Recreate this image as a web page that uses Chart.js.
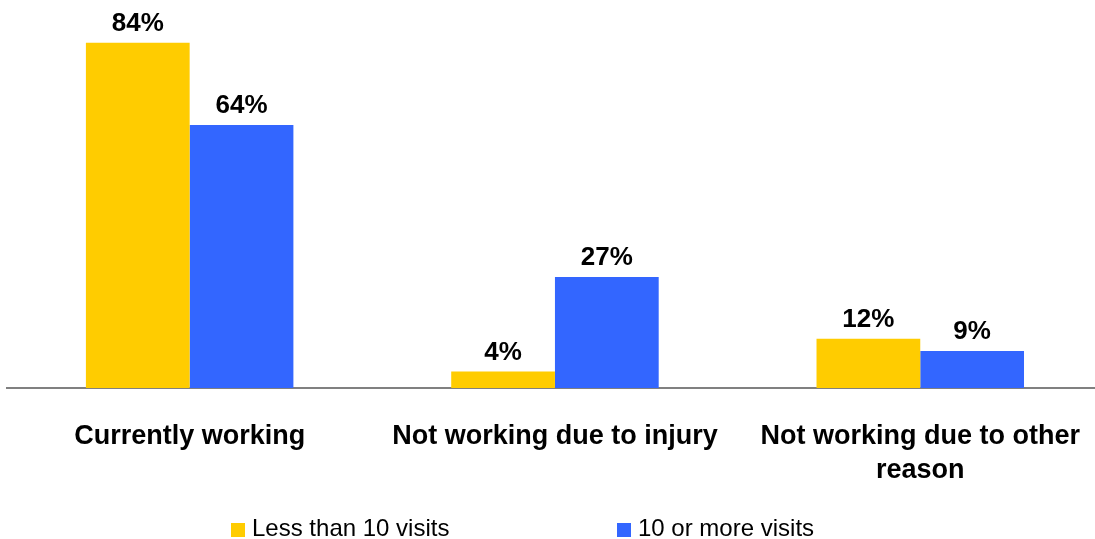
<!DOCTYPE html>
<html>
<head>
<meta charset="utf-8">
<script src="https://cdn.jsdelivr.net/npm/chart.js@4"></script>
<style>
  html, body { margin: 0; padding: 0; background: #fff; overflow: hidden; }
  #wrap { width: 1095px; height: 539px; overflow: hidden; }
  canvas { display: block; }
</style>
</head>
<body>
<div id="wrap"><canvas id="chart" width="1112" height="539"></canvas></div>
<script>
const categories = ['Currently working', 'Not working due to injury', ['Not working due to other', 'reason']];
const seriesNames = ['Less than 10 visits', '10 or more visits'];
const lessThan10 = [84, 4, 12];
const tenOrMore = [64, 27, 9];
const colors = ['#FFCC00', '#3366FF'];

const ctx = document.getElementById('chart');

// value labels above each bar
const valueLabels = {
  id: 'valueLabels',
  afterDatasetsDraw(chart) {
    const c = chart.ctx;
    c.save();
    c.font = 'bold 26px "Liberation Sans", Arial, sans-serif';
    c.fillStyle = '#000';
    c.textAlign = 'center';
    c.textBaseline = 'alphabetic';
    chart.data.datasets.forEach((ds, i) => {
      chart.getDatasetMeta(i).data.forEach((bar, j) => {
        c.fillText(ds.data[j] + '%', bar.x, bar.y - 12);
      });
    });
    c.restore();
  }
};

// legend drawn at fixed spots like the original
const bottomLegend = {
  id: 'bottomLegend',
  afterDraw(chart) {
    const c = chart.ctx;
    const xs = [231, 617];
    c.save();
    c.font = '24px "Liberation Sans", Arial, sans-serif';
    c.textBaseline = 'alphabetic';
    c.textAlign = 'left';
    chart.data.datasets.forEach((ds, i) => {
      c.fillStyle = ds.backgroundColor;
      c.fillRect(xs[i], 523, 14, 14);
      c.fillStyle = '#000';
      c.fillText(ds.label, xs[i] + 21, 536);
    });
    c.restore();
  }
};

new Chart(ctx, {
  type: 'bar',
  data: {
    labels: categories,
    datasets: [
      { label: seriesNames[0], data: lessThan10, backgroundColor: colors[0] },
      { label: seriesNames[1], data: tenOrMore, backgroundColor: colors[1] }
    ]
  },
  options: {
    responsive: false,
    animation: false,
    events: [],
    layout: { padding: { left: 7, right: 6, top: 10, bottom: 0 } },
    datasets: {
      bar: { categoryPercentage: 0.568, barPercentage: 1.0, borderWidth: 0 }
    },
    plugins: {
      legend: { display: false },
      tooltip: { enabled: false }
    },
    scales: {
      x: {
        grid: { display: false, drawTicks: false },
        border: { display: true, color: '#808080', width: 2 },
        ticks: {
          color: '#000',
          padding: 31,
          maxRotation: 0,
          autoSkip: false,
          font: { family: '"Liberation Sans", Arial, sans-serif', size: 27, weight: 'bold', lineHeight: 1.28 }
        },
        afterFit(scale) { scale.height = 151; }
      },
      y: {
        display: false,
        min: 0,
        max: 92
      }
    }
  },
  plugins: [valueLabels, bottomLegend]
});
</script>
</body>
</html>
